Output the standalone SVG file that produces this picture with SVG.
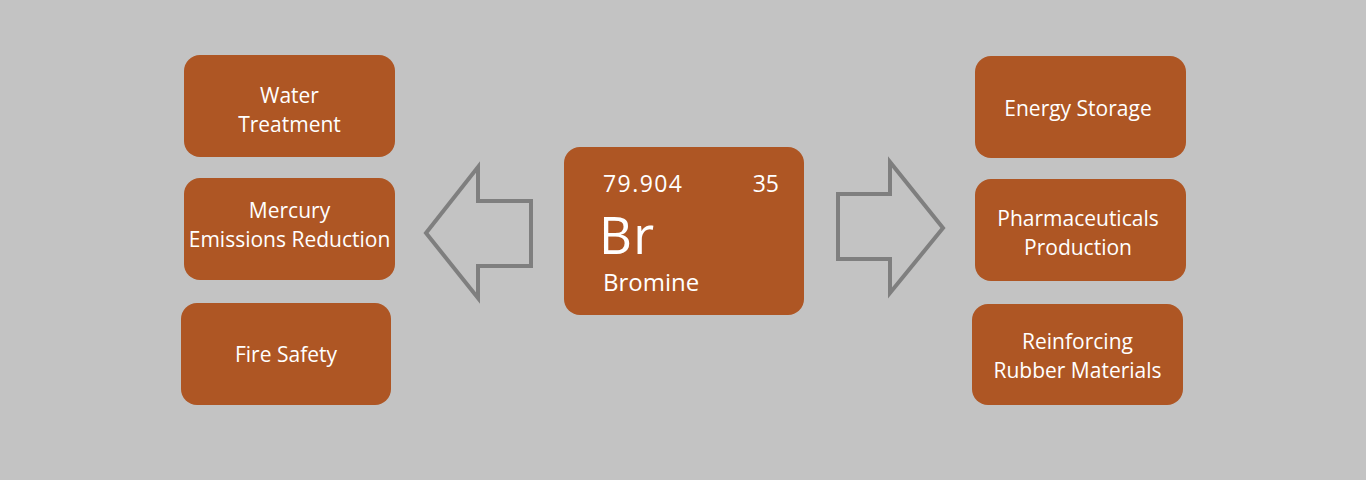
<svg xmlns="http://www.w3.org/2000/svg" width="1366" height="480" viewBox="0 0 1366 480">
<style>
.box{fill:#AE5624;}
.t{font-family:"Open Sans","Liberation Sans",sans-serif;font-size:21px;fill:#FFFFFF;text-anchor:middle;}
.c{font-family:"Open Sans","Liberation Sans",sans-serif;fill:#FFFFFF;}
.arrow{fill:none;stroke:#7F7F7F;stroke-width:4;stroke-linejoin:miter;}
</style>
<rect x="0" y="0" width="1366" height="480" fill="#C3C3C3"/>
<g id="water"><rect class="box" x="184" y="55" width="211" height="102" rx="16"/><text class="t" x="289.5" y="103">Water</text><text class="t" x="289.5" y="132">Treatment</text></g>
<g id="mercury"><rect class="box" x="184" y="178" width="211" height="102" rx="16"/><text class="t" x="289.5" y="218">Mercury</text><text class="t" x="289.5" y="247">Emissions Reduction</text></g>
<g id="fire"><rect class="box" x="181" y="303" width="210" height="102" rx="16"/><text class="t" x="286" y="362">Fire Safety</text></g>
<g id="bromine"><rect class="box" x="564" y="147" width="240" height="168" rx="16"/>
<text class="c" x="603" y="192" font-size="23" textLength="79">79.904</text>
<text class="c" x="779" y="192" font-size="23" text-anchor="end">35</text>
<text class="c" x="599" y="254" font-size="51" textLength="55">Br</text>
<text class="c" x="603" y="291" font-size="24">Bromine</text></g>
<g id="energy"><rect class="box" x="975" y="56" width="211" height="102" rx="16"/><text class="t" x="1078" y="116">Energy Storage</text></g>
<g id="pharma"><rect class="box" x="975" y="179" width="211" height="102" rx="16"/><text class="t" x="1078" y="226">Pharmaceuticals</text><text class="t" x="1078" y="255">Production</text></g>
<g id="rubber"><rect class="box" x="972" y="304" width="211" height="101" rx="16"/><text class="t" x="1077.5" y="349">Reinforcing</text><text class="t" x="1077.5" y="378">Rubber Materials</text></g>
<g id="connectors">
<polygon class="arrow" points="426,233 478,167 478,201 531,201 531,266 478,266 478,298"/>
<polygon class="arrow" points="838,194 890,194 890,162 943,228 890,293 890,259 838,259"/>
</g>
</svg>
